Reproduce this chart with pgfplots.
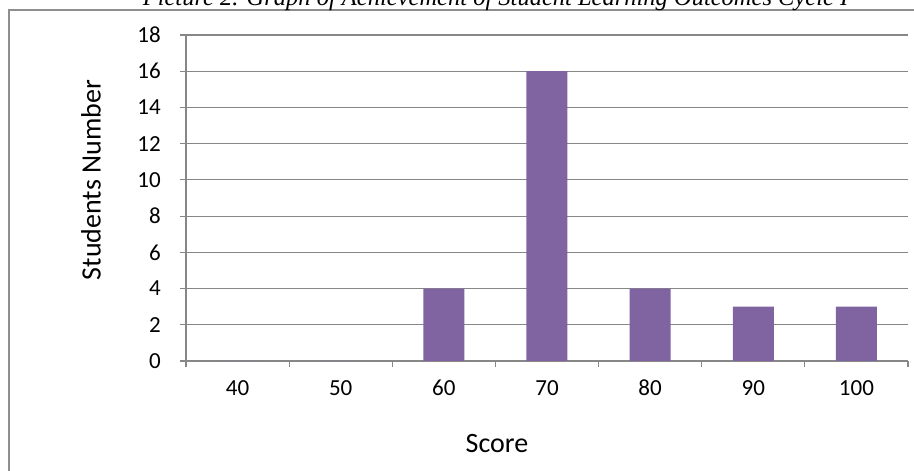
\documentclass[border=0pt]{standalone}
\usepackage{pgfplots}
\pgfplotsset{compat=1.18}
\usepackage{fontspec}
\setmainfont{Carlito}
\newfontfamily\titlefont{Liberation Serif}
\definecolor{barpurple}{HTML}{8064A2}
\definecolor{gridgray}{HTML}{878787}
\definecolor{framegray}{HTML}{8E8E8E}
\begin{document}
\begin{tikzpicture}[x=1pt,y=1pt]
\useasboundingbox (0,0) rectangle (914,471);
\draw[framegray, line width=1.1pt] (9,-20) -- (9,461) -- (940,461);
\node[anchor=base, inner sep=0pt, font=\titlefont\itshape\fontsize{24.5}{28}\selectfont] at (495.5,465.5) {Picture 2. Graph of Achievement of Student Learning Outcomes Cycle I};
\begin{axis}[
  at={(186pt,110pt)}, anchor=south west,
  scale only axis, width=722pt, height=326pt,
  xmin=-0.5, xmax=6.5, ymin=0, ymax=18,
  axis lines=left,
  axis line style={-, gridgray, line width=1.2pt},
  ytick={0,2,...,18},
  xtick={0,...,6},
  xticklabels={40,50,60,70,80,90,100},
  minor xtick={-0.5,0.5,...,6.5},
  tick align=outside,
  major tick length=6pt, minor tick length=6pt,
  every tick/.style={gridgray, line width=1.2pt},
  major x tick style={draw=none},
  ymajorgrids,
  grid style={gridgray, line width=1.2pt},
  /pgf/number format/assume math mode=true,
  ticklabel style={font=\fontsize{23}{27}\selectfont, inner sep=0pt},
  yticklabel style={anchor=east, xshift=-19pt},
  xticklabel style={anchor=north, yshift=-13pt},
  xlabel={Score},
  ylabel={Students Number},
  label style={font=\fontsize{28}{32}\selectfont},
  xlabel style={at={(axis description cs:0.4307,-0.282)}, anchor=base, inner sep=0pt},
  ylabel style={at={(axis description cs:-0.1316,0.555)}, anchor=center, rotate=0, inner sep=0pt},
  clip=false,
]
\addplot[ybar, bar width=41pt, fill=barpurple, draw=none] coordinates {(0,0) (1,0) (2,4) (3,16) (4,4) (5,3) (6,3)};
\end{axis}
\end{tikzpicture}
\end{document}
